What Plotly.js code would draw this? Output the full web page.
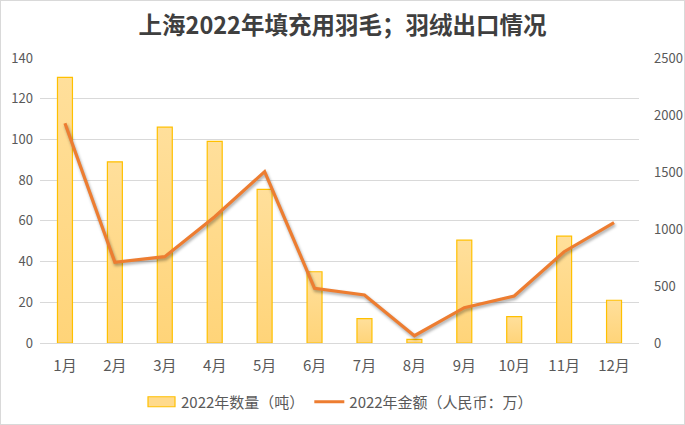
<!DOCTYPE html>
<html>
<head>
<meta charset="utf-8">
<script src="https://cdn.plot.ly/plotly-3.0.1.min.js"></script>
<style>
html,body{margin:0;padding:0;background:#fff;}
#chart{width:683px;height:423px;border:1px solid #D9D9D9;}
.barlayer .point path{fill:url(#barGrad) !important;}
.scatterlayer .js-line{filter:drop-shadow(1px 2px 1.5px rgba(0,0,0,0.35));}
</style>
</head>
<body>
<svg width="0" height="0" style="position:absolute">
<defs>
<linearGradient id="barGrad" x1="0" y1="0" x2="0" y2="1">
<stop offset="0" stop-color="#FFDF9B"/>
<stop offset="1" stop-color="#FFD479"/>
</linearGradient>
</defs>
</svg>
<div id="chart"></div>
<script>
const months = ["1月","2月","3月","4月","5月","6月","7月","8月","9月","10月","11月","12月"];
const quantity = [130.5, 89, 106, 99, 75.5, 35, 12, 1.8, 50.5, 13, 52.5, 21];
const amount = [1927, 708, 757, 1108, 1503, 480, 421, 64, 310, 412, 801, 1055];
const leftTicks = [0,20,40,60,80,100,120,140];
const rightTicks = [0,500,1000,1500,2000,2500];

const font = "'Noto Sans CJK SC', 'Noto Sans', sans-serif";

const data = [
  {
    type: "bar",
    name: "2022年数量（吨）",
    x: months,
    y: quantity,
    width: 0.3,
    marker: {color: "#FFDA8C", line: {color: "#FFC000", width: 1.2}},
    yaxis: "y"
  },
  {
    type: "scatter",
    mode: "lines",
    name: "2022年金额（人民币：万）",
    x: months,
    y: amount,
    line: {color: "#ED7D31", width: 3.2},
    yaxis: "y2"
  }
];

const layout = {
  width: 683, height: 423,
  margin: {l: 39, r: 45, t: 57, b: 81},
  paper_bgcolor: "#fff", plot_bgcolor: "#fff",
  font: {family: font, color: "#595959", size: 12},
  title: {
    text: "<b>上海2022年填充用羽毛；羽绒出口情况</b>",
    font: {family: font, size: 23.5, color: "#3F3F3F"},
    x: 0.5, xanchor: "center", y: 0.942, yanchor: "middle"
  },
  showlegend: true,
  legend: {
    orientation: "h", x: 0.5, xanchor: "center",
    yref: "container", y: 0.052, yanchor: "middle",
    font: {family: font, size: 15, color: "#595959"},
    traceorder: "normal", itemwidth: 30
  },
  xaxis: {
    type: "category",
    showline: true, linecolor: "#D9D9D9", linewidth: 1,
    ticks: "", showgrid: false, ticklabelstandoff: 9,
    tickfont: {family: font, size: 15, color: "#595959"}
  },
  yaxis: {
    range: [0, 140], tickvals: leftTicks, ticktext: leftTicks.map(String),
    showgrid: true, gridcolor: "#D9D9D9", gridwidth: 1,
    zeroline: false, showline: false, ticks: "", ticklabelstandoff: 6,
    tickfont: {family: font, size: 13, color: "#595959"}
  },
  yaxis2: {
    overlaying: "y", side: "right",
    range: [0, 2500], tickvals: rightTicks, ticktext: rightTicks.map(String),
    showgrid: false, zeroline: false, showline: false, ticks: "",
    ticklabelstandoff: 14,
    tickfont: {family: font, size: 13, color: "#595959"}
  },
  bargap: 0.7
};

Plotly.newPlot("chart", data, layout, {displayModeBar: false, staticPlot: true}).then(function (gd) {
  // widen the bar legend swatch into a rectangle like the original
  gd.querySelectorAll(".legend .legendpoints path.legendundefined, .legend .legendbar path").forEach(function (p) {
    p.setAttribute("d", "M-13,-5H14V5H-13Z");
  });
});
</script>
</body>
</html>
